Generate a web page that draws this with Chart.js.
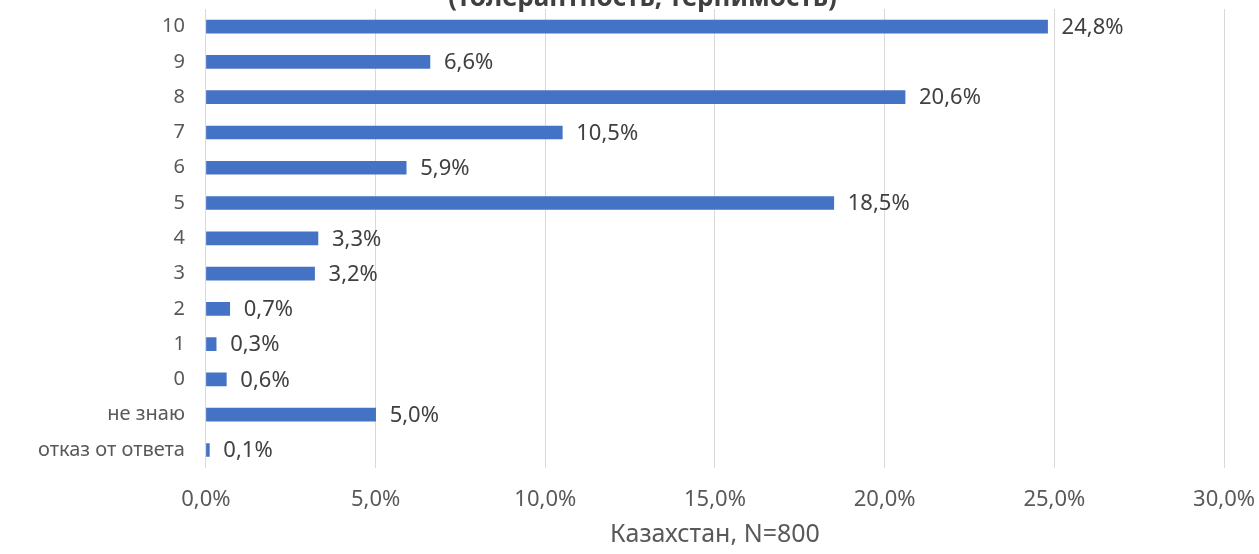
<!DOCTYPE html>
<html>
<head>
<meta charset="utf-8">
<script src="https://cdn.jsdelivr.net/npm/chart.js@4"></script>
<style>
  html, body { margin: 0; padding: 0; background: #fff; }
  #wrap { width: 1259px; height: 554px; overflow: hidden; position: relative; }
  #box { position: absolute; left: 0; top: -24px; width: 1274px; height: 578px; }
</style>
</head>
<body>
<div id="wrap"><div id="box"><canvas id="barChart"></canvas></div></div>
<script>
const categories = ['10', '9', '8', '7', '6', '5', '4', '3', '2', '1', '0', 'не знаю', 'отказ от ответа'];
const shares = [24.8, 6.6, 20.6, 10.5, 5.9, 18.5, 3.3, 3.2, 0.7, 0.3, 0.6, 5.0, 0.1];
const titleText = '(толерантность, терпимость)';
const axisTitle = 'Казахстан, N=800';

const FONT = "'Noto Sans', sans-serif";
const fmt = v => v.toFixed(1).replace('.', ',') + '%';

// подписи значений справа от столбцов
const valueLabels = {
    id: 'valueLabels',
    afterDatasetsDraw(chart) {
        const { ctx } = chart;
        const meta = chart.getDatasetMeta(0);
        ctx.save();
        ctx.font = '22px ' + FONT;
        ctx.fillStyle = '#404040';
        ctx.textAlign = 'left';
        ctx.textBaseline = 'middle';
        meta.data.forEach((bar, i) => {
            ctx.fillText(fmt(shares[i]), bar.x + 14, bar.y + 1);
        });
        ctx.restore();
    },
};

const ctx = document.getElementById('barChart').getContext('2d');
new Chart(ctx, {
    type: 'bar',
    data: {
        labels: categories,
        datasets: [{
            data: shares,
            backgroundColor: '#4472C4',
            barThickness: 13,
        }],
    },
    options: {
        indexAxis: 'y',
        responsive: true,
        maintainAspectRatio: false,
        animation: false,
        layout: { padding: { left: 17, right: 6, top: 0, bottom: 0 } },
        plugins: {
            legend: { display: false },
            tooltip: { enabled: false },
            title: {
                display: true,
                text: titleText,
                font: { size: 26, family: FONT, weight: 'bold', lineHeight: 0.6 },
                color: '#404040',
                padding: { top: 13, bottom: 3 },
            },
        },
        scales: {
            x: {
                min: 0,
                max: 30,
                grid: { color: '#d9d9d9', drawTicks: false },
                border: { display: false },
                ticks: {
                    stepSize: 5,
                    padding: 19,
                    font: { size: 22, family: FONT },
                    color: '#595959',
                    callback: v => fmt(v),
                },
                title: {
                    display: true,
                    text: axisTitle,
                    font: { size: 25, family: FONT },
                    color: '#595959',
                    padding: { top: -12, bottom: 4 },
                },
            },
            y: {
                grid: { display: false, drawTicks: false },
                border: { display: false },
                ticks: {
                    padding: 21,
                    font: { size: 20, family: FONT },
                    color: '#595959',
                },
            },
        },
    },
    plugins: [valueLabels],
});
</script>
</body>
</html>
